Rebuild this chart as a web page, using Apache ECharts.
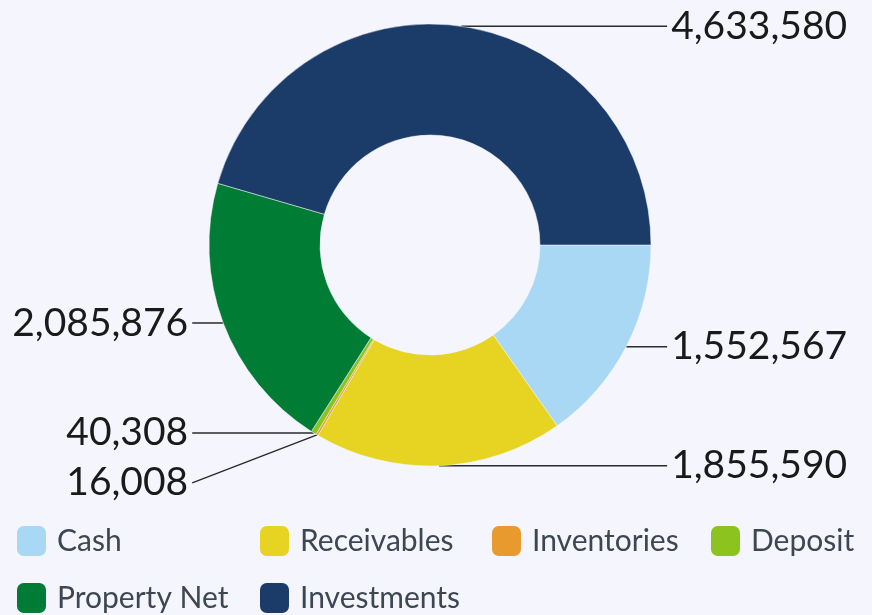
<!DOCTYPE html>
<html>
<head>
<meta charset="utf-8">
<script src="https://cdn.jsdelivr.net/npm/echarts@6/dist/echarts.min.js"></script>
<style>
html,body{margin:0;padding:0;background:#f5f6fd;}
#chart{width:872px;height:615px;}
</style>
</head>
<body>
<div id="chart"></div>
<script>
const categories = ['Cash', 'Receivables', 'Inventories', 'Deposit', 'Property Net', 'Investments'];
const values = [1552567, 1855590, 16008, 40308, 2085876, 4633580];
const colors = ['#a9d8f5', '#e6d322', '#e99a2f', '#8cc31f', '#017c34', '#1b3b69'];

const legendLefts = [15, 258, 490, 709, 15, 258];
const legendTops = [524, 524, 524, 524, 581, 581];

const chart = echarts.init(document.getElementById('chart'));

const data = categories.map((name, i) => {
  const item = { name: name, value: values[i], itemStyle: { color: colors[i] } };
  if (name === 'Property Net') {
    item.labelLine = { length2: 31 };
  }
  return item;
});

const legends = categories.map((name, i) => ({
  data: [name],
  left: legendLefts[i],
  top: legendTops[i],
  padding: 0,
  icon: 'roundRect',
  itemWidth: 31,
  itemHeight: 32,
  selectedMode: false,
  textStyle: {
    fontFamily: 'Lato',
    fontSize: 30,
    color: '#3d4754',
    padding: [0, 0, 0, 5]
  }
}));

chart.setOption({
  backgroundColor: '#f5f6fd',
  animation: false,
  color: colors,
  legend: legends,
  series: [{
    type: 'pie',
    center: [430, 245],
    radius: [110, 221],
    startAngle: 0,
    clockwise: true,
    avoidLabelOverlap: true,
    itemStyle: { borderColor: '#f5f6fd', borderWidth: 0.5 },
    label: {
      show: true,
      position: 'outer',
      alignTo: 'labelLine',
      distanceToLabelLine: 4,
      fontFamily: 'Lato',
      fontSize: 39,
      lineHeight: 48,
      color: '#1a1a1a',
      formatter: p => p.value.toLocaleString('en-US')
    },
    labelLine: {
      show: true,
      length: 0,
      length2: 41,
      lineStyle: { color: '#2b2b2b', width: 1.5 }
    },
    labelLayout: function (params) {
      const pts = params.labelLinePoints;
      if (pts && pts.length === 3 && Math.abs(pts[0][1] - pts[2][1]) > 5) {
        return { labelLinePoints: [pts[0], pts[2], pts[2]] };
      }
      return {};
    },
    emphasis: { disabled: true },
    data: data
  }]
});
</script>
</body>
</html>
